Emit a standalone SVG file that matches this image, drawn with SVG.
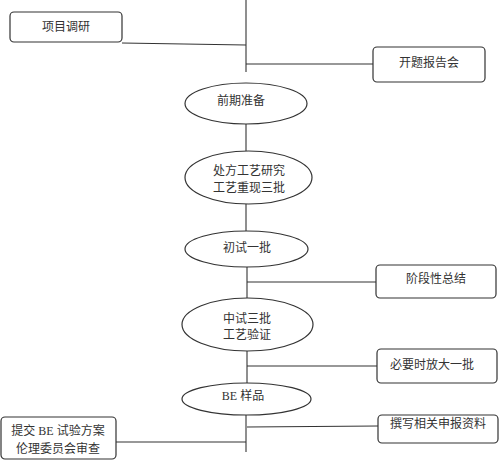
<svg xmlns="http://www.w3.org/2000/svg" width="500" height="461" viewBox="0 0 500 461">
<style>
.n{fill:#fff;stroke:#333;stroke-width:1.2}
.t{font-family:"Liberation Serif","Noto Sans CJK SC",serif;font-size:12px;fill:#333;text-anchor:middle;dominant-baseline:central}
.c{stroke:#333;stroke-width:1.1;fill:none}
</style>
<rect width="500" height="461" fill="#fff"/>
<g id="connectors">
<line class="c" x1="246" y1="0" x2="246" y2="72"/>
<polyline class="c" points="122,43 246,45"/>
<line class="c" x1="246" y1="64" x2="373" y2="64"/>
<line class="c" x1="246" y1="124" x2="246" y2="151"/>
<line class="c" x1="246" y1="204" x2="246" y2="231"/>
<line class="c" x1="247" y1="267" x2="247" y2="298"/>
<line class="c" x1="247" y1="282" x2="376" y2="282"/>
<line class="c" x1="247" y1="351" x2="247" y2="383"/>
<line class="c" x1="247" y1="366" x2="377" y2="366"/>
<line class="c" x1="246" y1="415" x2="246" y2="452"/>
<line class="c" x1="247" y1="427" x2="378" y2="426"/>
<line class="c" x1="116" y1="442" x2="246" y2="442"/>
</g>
<g id="n1"><rect class="n" x="10" y="12" width="112" height="30" rx="4"/><text class="t" x="66" y="27">项目调研</text></g>
<g id="n2"><rect class="n" x="373" y="47" width="112" height="35" rx="4"/><text class="t" x="429" y="63">开题报告会</text></g>
<g id="n3"><ellipse class="n" cx="246" cy="103.5" rx="61" ry="20.5"/><text class="t" x="241" y="101">前期准备</text></g>
<g id="n4"><ellipse class="n" cx="248.5" cy="177.5" rx="63.5" ry="26.5"/><text class="t" x="249" y="171">处方工艺研究</text><text class="t" x="249" y="188">工艺重现三批</text></g>
<g id="n5"><ellipse class="n" cx="246.5" cy="249" rx="61.5" ry="18"/><text class="t" x="247" y="248">初试一批</text></g>
<g id="n6"><rect class="n" x="376" y="265" width="120" height="33" rx="4"/><text class="t" x="436" y="279">阶段性总结</text></g>
<g id="n7"><ellipse class="n" cx="247.5" cy="324.5" rx="65.5" ry="26.5"/><text class="t" x="247" y="319">中试三批</text><text class="t" x="247" y="335">工艺验证</text></g>
<g id="n8"><rect class="n" x="377" y="349" width="120" height="34" rx="4"/><text class="t" x="432" y="365">必要时放大一批</text></g>
<g id="n9"><ellipse class="n" cx="246.5" cy="399" rx="64.5" ry="16"/><text class="t" x="243" y="396">BE 样品</text></g>
<g id="n10"><rect class="n" x="378" y="415" width="120" height="28" rx="4"/><text class="t" x="438" y="424">撰写相关申报资料</text></g>
<g id="n11"><rect class="n" x="1" y="417" width="115" height="42" rx="4"/><text class="t" x="58" y="431">提交 BE 试验方案</text><text class="t" x="58" y="449">伦理委员会审查</text></g>
</svg>
